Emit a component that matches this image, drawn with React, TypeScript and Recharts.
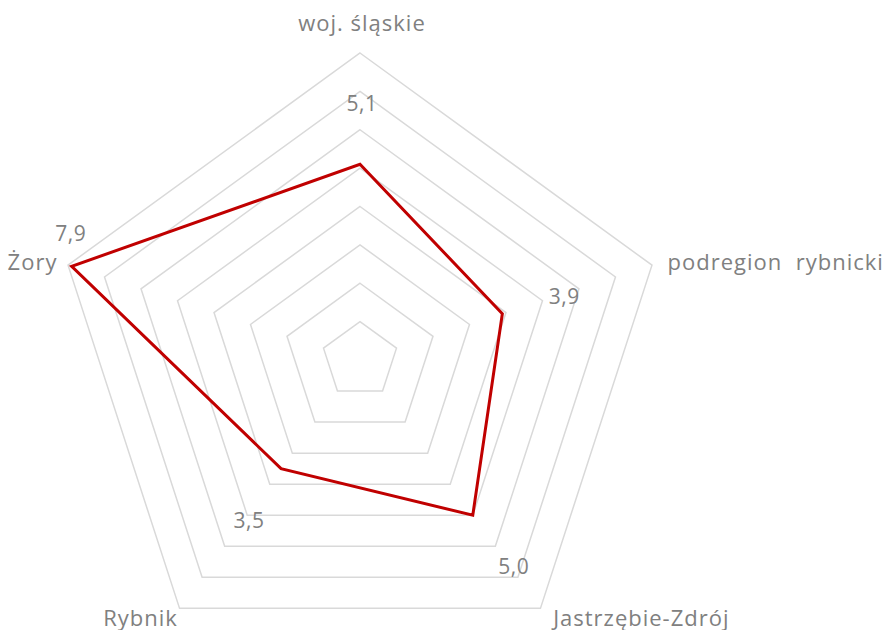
import { LabelList, PolarAngleAxis, PolarGrid, PolarRadiusAxis, Radar, RadarChart } from 'recharts';

const regions = ['woj. śląskie', 'podregion  rybnicki', 'Jastrzębie-Zdrój', 'Rybnik', 'Żory'];
const values = [5.1, 3.9, 5.0, 3.5, 7.9];
const radiusMax = 8;

const data = regions.map((name, i) => ({ name, value: values[i] }));

// label nudges, tuned by eye
const tickShift = [
  { dx: 2, dy: -14, anchor: 'middle' },
  { dx: 8, dy: 7, anchor: 'start' },
  { dx: 8, dy: 11, anchor: 'start' },
  { dx: 3, dy: 11, anchor: 'end' },
  { dx: -3, dy: 7, anchor: 'end' },
];
const valueShift = [
  { dx: 2, dy: -61 },
  { dx: 62, dy: -18 },
  { dx: 41, dy: 51 },
  { dx: -32, dy: 51 },
  { dx: -1, dy: -33 },
];

const font = '"Open Sans", sans-serif';
const grey = '#808080';

const AngleTick = (props: any) => {
  const { x, y, payload, index } = props;
  const s = tickShift[index] ?? { dx: 0, dy: 0, anchor: 'middle' };
  return (
    <text
      x={x + s.dx}
      y={y + s.dy}
      textAnchor={s.anchor}
      fill={grey}
      fontSize={22}
      letterSpacing={1}
      fontFamily={font}
      style={{ whiteSpace: 'pre' }}>
      {payload.value}
    </text>
  );
};

const ValueLabel = (props: any) => {
  const { x, y, value, index } = props;
  const s = valueShift[index] ?? { dx: 0, dy: 0 };
  return (
    <text
      x={x + s.dx}
      y={y + s.dy}
      textAnchor="middle"
      dominantBaseline="central"
      fill={grey}
      fontSize={21}
      letterSpacing={0.5}
      fontFamily={font}>
      {Number(value).toFixed(1).replace('.', ',')}
    </text>
  );
};

export default function App() {
  return (
    <div style={{ position: 'absolute', left: 0, top: 0, width: 895, height: 630, background: '#fff' }}>
      <RadarChart width={895} height={630} data={data} cx={360} cy={360} outerRadius={307}>
        <PolarGrid gridType="polygon" radialLines={false} stroke="#d9d9d9" strokeWidth={1.5} />
        <PolarAngleAxis dataKey="name" tick={<AngleTick />} axisLine={false} tickLine={false} />
        <PolarRadiusAxis domain={[0, radiusMax]} tickCount={9} tick={false} axisLine={false} />
        <Radar
          dataKey="value"
          stroke="#c00000"
          strokeWidth={3}
          fill="none"
          fillOpacity={0}
          dot={false}
          isAnimationActive={false}>
          <LabelList dataKey="value" content={<ValueLabel />} />
        </Radar>
      </RadarChart>
    </div>
  );
}
